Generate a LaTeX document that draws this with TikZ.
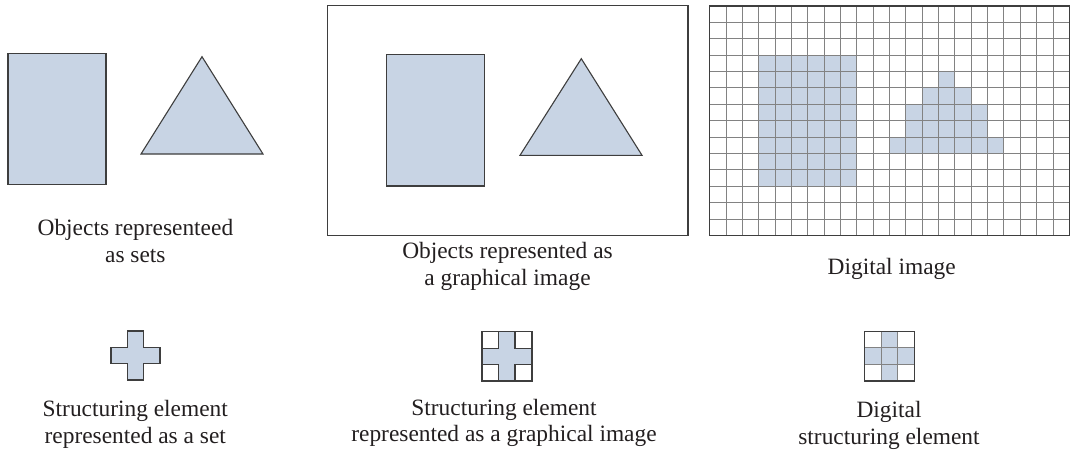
\documentclass[tikz,border=0pt]{standalone}
\usepackage{fontspec}
\setmainfont{Liberation Serif}
\usepackage{tikz}
\usetikzlibrary{positioning}
\definecolor{objfill}{RGB}{200,212,228}
\definecolor{objline}{RGB}{62,62,62}
\definecolor{gridgray}{RGB}{130,130,130}
\definecolor{textdark}{RGB}{35,31,32}

\begin{document}
\begin{tikzpicture}[x=1pt, y=-1pt,
      obj/.style={draw=objline, fill=objfill, line width=1.1pt, line join=miter},
      frame/.style={draw=objline, line width=1.3pt},
      gline/.style={draw=gridgray, line width=0.9pt},
      lbl/.style={font=\fontsize{23.4}{26.8}\selectfont, text=textdark, align=center, anchor=base, inner sep=0pt}]
    \useasboundingbox[fill=white] (0,0) rectangle (1070,453);

    % objects represented as sets
    \draw[obj] (8,53.3) rectangle (106,184.7);
    \draw[obj] (141,154) -- (202,56.7) -- (263,154) -- cycle;
    \node[lbl] (setstxt) at (135.4,262.3) {Objects representeed\\as sets};

    % objects as a graphical image
    \draw[frame] (327.3,5.7) rectangle (688,235.3);
    \draw[obj] (386.7,54.3) rectangle (484.7,186);
    \draw[obj] (520,155.3) -- (581.3,58.7) -- (642,155.3) -- cycle;
    \node[lbl] (graphtxt) at (507.5,285.3) {Objects represented as\\a graphical image};

    % digital image
    \begin{scope}[shift={(709.6,5.9)}, x=16.35pt, y=-16.4pt]
      \foreach \c in {3,...,8}
        \foreach \r in {3,...,10}
          \fill[objfill] (\c,\r) rectangle ++(1,1);
      \fill[objfill] (14,4) rectangle (15,5);
      \fill[objfill] (13,5) rectangle (16,6);
      \fill[objfill] (12,6) rectangle (17,8);
      \fill[objfill] (11,8) rectangle (18,9);
      \foreach \c in {1,...,21}
        \draw[gline] (\c,0) -- (\c,14);
      \foreach \r in {1,...,13}
        \draw[gline] (0,\r) -- (22,\r);
      \draw[frame] (0,0) rectangle (22,14);
    \end{scope}
    \node[lbl] (digtxt) at (891.7,274.3) {Digital image};

    % structuring element as a set
    \draw[obj] (127.3,331) -- (143.7,331) -- (143.7,347.3) -- (160,347.3) -- (160,363.7)
      -- (143.7,363.7) -- (143.7,380) -- (127.3,380) -- (127.3,363.7) -- (111,363.7)
      -- (111,347.3) -- (127.3,347.3) -- cycle;
    \node[lbl] (sesettxt) at (135.3,443.5) {Structuring element\\represented as a set};

    % structuring element as a graphical image
    \draw[obj] (498.5,331.7) -- (515,331.7) -- (515,348.2) -- (532,348.2) -- (532,364.5)
      -- (515,364.5) -- (515,381) -- (498.5,381) -- (498.5,364.5) -- (482,364.5)
      -- (482,348.2) -- (498.5,348.2) -- cycle;
    \draw[frame] (482,331.7) rectangle (532,381);
    \node[lbl] (segraphtxt) at (504,441.8) {Structuring element\\represented as a graphical image};

    % digital structuring element
    \begin{scope}[shift={(864.5,331.2)}, x=16.6pt, y=-16.6pt]
      \fill[objfill] (1,0) rectangle (2,3);
      \fill[objfill] (0,1) rectangle (3,2);
      \foreach \k in {1,2} {
        \draw[gline] (\k,0) -- (\k,3);
        \draw[gline] (0,\k) -- (3,\k);
      }
      \draw[frame] (0,0) rectangle (3,3);
    \end{scope}
    \node[lbl] (sedigtxt) at (889,444.5) {Digital\\structuring element};
\end{tikzpicture}
\end{document}
